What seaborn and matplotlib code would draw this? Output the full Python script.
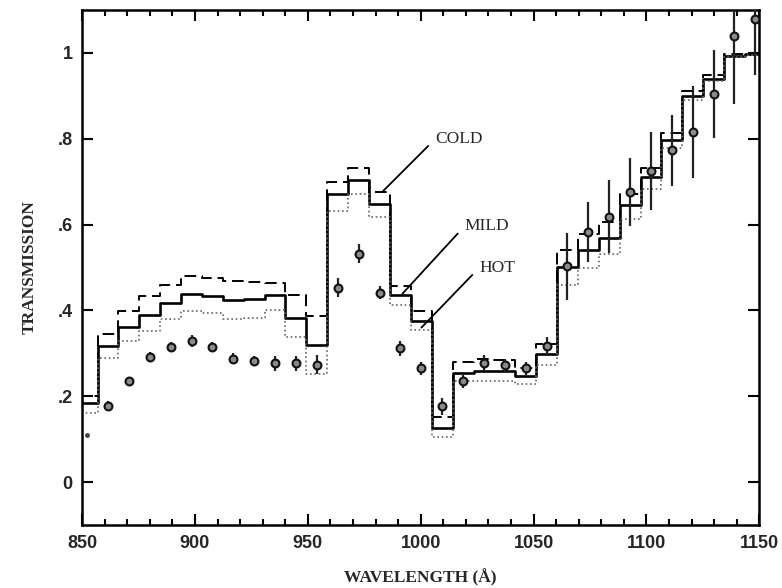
import matplotlib

matplotlib.use("Agg")
import matplotlib.pyplot as plt
from matplotlib.ticker import FuncFormatter, MultipleLocator
import numpy as np
import seaborn as sns

# bin edges of the model curves (Angstrom), read from the steps
bin_edges = [847.6, 856.9, 866.1, 875.4, 884.6, 893.9, 903.1, 912.4, 921.6, 930.9,
             940.1, 949.4, 958.6, 967.9, 977.1, 986.4, 995.6, 1004.9, 1014.1, 1023.4,
             1032.6, 1041.9, 1051.1, 1060.4, 1069.6, 1078.9, 1088.1, 1097.4, 1106.6,
             1115.9, 1125.1, 1134.4, 1143.6, 1152.9]

cold = [0.200, 0.346, 0.399, 0.434, 0.459, 0.480, 0.476, 0.469, 0.467, 0.465, 0.436,
        0.386, 0.699, 0.731, 0.676, 0.458, 0.399, 0.152, 0.280, 0.287, 0.284, 0.267,
        0.323, 0.542, 0.577, 0.605, 0.672, 0.733, 0.814, 0.911, 0.949, 0.997, 1.000]
mild = [0.185, 0.317, 0.361, 0.389, 0.418, 0.438, 0.434, 0.424, 0.426, 0.435, 0.383,
        0.320, 0.671, 0.703, 0.649, 0.437, 0.375, 0.127, 0.255, 0.260, 0.259, 0.247,
        0.298, 0.502, 0.540, 0.568, 0.646, 0.711, 0.796, 0.900, 0.939, 0.993, 0.997]
hot = [0.160, 0.290, 0.329, 0.352, 0.379, 0.399, 0.395, 0.380, 0.383, 0.402, 0.338,
       0.252, 0.632, 0.672, 0.618, 0.412, 0.354, 0.105, 0.235, 0.235, 0.235, 0.228,
       0.274, 0.460, 0.500, 0.531, 0.612, 0.682, 0.779, 0.890, 0.935, 0.990, 0.995]

# measured transmission per bin with 1-sigma errors
obs = [0.110, 0.177, 0.235, 0.291, 0.315, 0.329, 0.315, 0.288, 0.282, 0.277, 0.277,
       0.274, 0.453, 0.532, 0.441, 0.312, 0.265, 0.177, 0.235, 0.278, 0.272, 0.265,
       0.317, 0.503, 0.583, 0.618, 0.676, 0.725, 0.773, 0.816, 0.904, 1.040, 1.078]
obs_err = [0.005, 0.012, 0.010, 0.012, 0.012, 0.015, 0.012, 0.012, 0.012, 0.018, 0.018,
           0.022, 0.022, 0.022, 0.015, 0.018, 0.015, 0.020, 0.015, 0.018, 0.015, 0.015,
           0.022, 0.078, 0.070, 0.085, 0.079, 0.091, 0.083, 0.107, 0.103, 0.160, 0.130]

x_ticks = [850, 900, 950, 1000, 1050, 1100, 1150]
y_ticks = [0, 0.2, 0.4, 0.6, 0.8, 1.0]

# label text, point on the curve, text position
labels = [("COLD", (983.3, 0.678), (1006.5, 0.800)),
          ("MILD", (991.9, 0.439), (1019.5, 0.597)),
          ("HOT", (1000.3, 0.360), (1026.0, 0.500))]

sns.set_style("ticks")
plt.rcParams["font.family"] = ["Liberation Sans", "DejaVu Sans"]

edges = np.array(bin_edges)
centers = (edges[:-1] + edges[1:]) / 2

fig = plt.figure(figsize=(7.82, 5.88), dpi=100)
ax = fig.add_axes([0.105, 0.107, 0.866, 0.876])

# model curves as step histograms
sns.histplot(x=centers, weights=cold, bins=bin_edges, element="step", fill=False,
             color="black", linewidth=1.4, linestyle=(0, (6, 3)), ax=ax)
sns.histplot(x=centers, weights=mild, bins=bin_edges, element="step", fill=False,
             color="black", linewidth=1.9, ax=ax)
sns.histplot(x=centers, weights=hot, bins=bin_edges, element="step", fill=False,
             color="#666666", linewidth=1.2, linestyle=(0, (1, 1.6)), ax=ax)

# data points
ax.errorbar(centers[1:], obs[1:], yerr=obs_err[1:], fmt="none", ecolor="#222222",
            elinewidth=1.6, capsize=0, zorder=3)
sns.scatterplot(x=centers[1:], y=obs[1:], marker="o", s=32, color="#8a8a8a",
                edgecolor="#111111", linewidth=1.5, zorder=4, ax=ax)
ax.plot(centers[:1], obs[:1], marker="o", ms=2.5, color="#444444", ls="none")

for name, xy, xytext in labels:
    ax.annotate(name, xy=xy, xytext=xytext, ha="left", va="center", fontsize=12.5,
                family="Liberation Serif",
                arrowprops=dict(arrowstyle="-", lw=1.3, color="black",
                                relpos=(0, 0.5), shrinkA=4, shrinkB=0))

ax.set_xlim(850, 1150)
ax.set_ylim(-0.1, 1.1)
ax.set_xticks(x_ticks)
ax.set_yticks(y_ticks)
ax.xaxis.set_minor_locator(MultipleLocator(10))
ax.yaxis.set_major_formatter(
    FuncFormatter(lambda v, _: "0" if abs(v) < 1e-9 else ("1" if abs(v - 1) < 1e-9 else f"{v:.1f}".lstrip("0"))))
ax.tick_params(which="both", direction="in", top=True, right=True, width=1.5, color="black")
ax.tick_params(which="major", length=8, labelsize=13, pad=7)
ax.tick_params(which="minor", length=4)
for lab in ax.get_xticklabels() + ax.get_yticklabels():
    lab.set_fontweight("bold")
for spine in ax.spines.values():
    spine.set_linewidth(1.8)
    spine.set_color("black")

ax.set_xlabel("WAVELENGTH (Å)", family="Liberation Serif", fontweight="bold",
              fontsize=12.5, labelpad=12)
ax.set_ylabel("TRANSMISSION", family="Liberation Serif", fontweight="bold",
              fontsize=12.5, labelpad=14)

fig.savefig("out.png", dpi=100)
plt.close(fig)
